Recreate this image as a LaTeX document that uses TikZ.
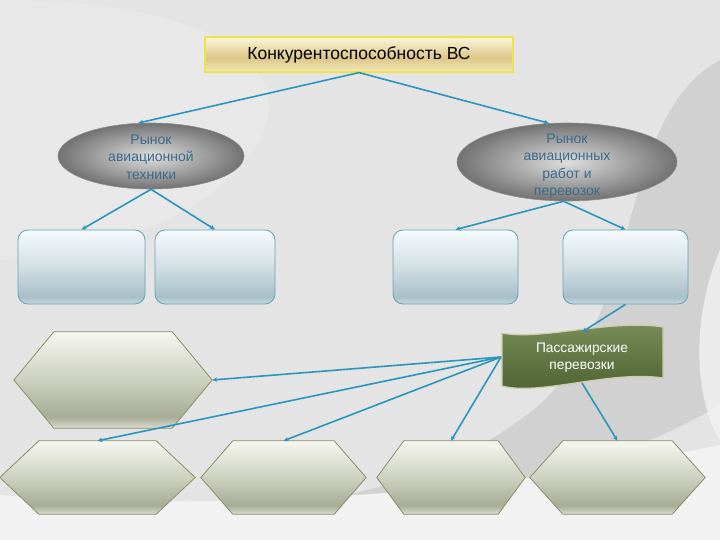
\documentclass[tikz,border=0pt]{standalone}
\usepackage{fontspec}
\setmainfont{Liberation Sans}
\usetikzlibrary{shapes.geometric,arrows.meta,calc}

\definecolor{bgbase}{HTML}{E4E4E4}
\definecolor{bgdark}{HTML}{C9C9C9}
\definecolor{bglight}{HTML}{F2F2F2}
\definecolor{arrowc}{HTML}{2A96BE}
\definecolor{boxtop}{HTML}{F6FAFC}
\definecolor{boxmid}{HTML}{D2DFE4}
\definecolor{boxlow}{HTML}{A7BFC8}
\definecolor{boxbot}{HTML}{C8D8DD}
\definecolor{boxline}{HTML}{62A3B7}
\definecolor{hextop}{HTML}{F6F6F0}
\definecolor{hexmid}{HTML}{CDD1BF}
\definecolor{hexlow}{HTML}{A6AC96}
\definecolor{hexbot}{HTML}{DADCCF}
\definecolor{hexline}{HTML}{8E8E68}
\definecolor{tittop}{HTML}{FCF6DA}
\definecolor{titmid}{HTML}{DCC687}
\definecolor{titbot}{HTML}{F4E9BA}
\definecolor{titline}{HTML}{EEE24A}
\definecolor{ellin}{HTML}{DEDEDE}
\definecolor{ellout}{HTML}{727272}
\definecolor{ellline}{HTML}{8C8C8C}
\definecolor{elltext}{HTML}{3A6B8C}
\definecolor{bantop}{HTML}{7A8E5B}
\definecolor{banbot}{HTML}{4D6131}
\definecolor{banline}{HTML}{C9CFA6}

\pgfdeclareverticalshading{boxsh}{100bp}{color(0bp)=(boxbot); color(25bp)=(boxbot); color(30bp)=(boxlow); color(50bp)=(boxmid); color(75bp)=(boxtop); color(100bp)=(boxtop)}
\pgfdeclareverticalshading{hexsh}{100bp}{color(0bp)=(hexbot); color(25bp)=(hexbot); color(31bp)=(hexlow); color(50bp)=(hexmid); color(75bp)=(hextop); color(100bp)=(hextop)}
\pgfdeclareverticalshading{titsh}{100bp}{color(0bp)=(titbot); color(25bp)=(titbot); color(45bp)=(titmid); color(75bp)=(tittop); color(100bp)=(tittop)}
\pgfdeclareverticalshading{bansh}{100bp}{color(0bp)=(banbot); color(25bp)=(banbot); color(75bp)=(bantop); color(100bp)=(bantop)}

\tikzset{
  conn/.style={draw=arrowc, line width=1.6pt, -{Stealth[length=5pt,width=4.5pt]}},
  boxsty/.style={rectangle, rounded corners=10pt, shade, shading=boxsh, draw=boxline, line width=0.8pt, minimum height=74pt, inner sep=0pt},
  hexn/.style={rectangle, inner sep=0pt, draw=none},
  hexfill/.style={shading=hexsh, draw=hexline, line width=0.8pt},
  ellsty/.style={ellipse, shade, shading=radial, inner color=ellin, outer color=ellout, draw=ellline, line width=0.6pt, inner sep=0pt},
  ellt/.style={align=center, text=elltext, font=\fontsize{14}{17.3}\selectfont, inner sep=0pt},
}

\newcommand\hexa[6]{%
  \node[hexn, minimum width=#4pt, minimum height=#5pt] (#1) at (#2,#3) {};
  \shadedraw[hexfill] (#1.west) -- ([xshift=#6pt]#1.north west) -- ([xshift=-#6pt]#1.north east) -- (#1.east) -- ([xshift=-#6pt]#1.south east) -- ([xshift=#6pt]#1.south west) -- cycle;
}

\begin{document}
\begin{tikzpicture}[x=1pt,y=-1pt]
\useasboundingbox (0,0) rectangle (720,540);
% background
\fill[bgbase] (0,0) rectangle (720,540);
\fill[bglight, opacity=0.35] (0,0) .. controls (200,0) and (300,60) .. (260,140) .. controls (200,240) and (60,250) .. (0,260) -- cycle;
\fill[bgdark, opacity=0.7] (720,60) .. controls (610,120) and (650,330) .. (520,420) .. controls (450,470) and (380,490) .. (300,505) .. controls (450,505) and (600,475) .. (720,405) -- cycle;
\fill[bglight, opacity=0.8] (720,250) .. controls (690,320) and (695,400) .. (720,440) -- cycle;
\fill[bglight] (0,495) .. controls (200,510) and (460,500) .. (720,445) -- (720,540) -- (0,540) -- cycle;

% title
\node[rectangle, shade, shading=titsh, draw=titline, line width=1.2pt, minimum width=308pt, minimum height=35pt, font=\fontsize{17.5}{20}\selectfont] (title) at (359,54.5) {Конкурентоспособность ВС};

% ellipses
\node[ellsty, minimum width=186pt, minimum height=66pt] (lel) at (151,156) {};
\node[ellt] (lelt) at (151,157) {Рынок\\авиационной\\техники};
\node[ellsty, minimum width=220pt, minimum height=78pt] (rel) at (567,162) {};
\node[ellt] (relt) at (567,166) {Рынок\\авиационных\\работ и\\перевозок};

% boxes
\node[boxsty, minimum width=127pt] (A) at (81.5,267) {};
\node[boxsty, minimum width=120pt] (B) at (215,267) {};
\node[boxsty, minimum width=125pt] (C) at (455.5,267) {};
\node[boxsty, minimum width=125pt] (D) at (625.5,267) {};

% hexagons
\hexa{big}{113}{380}{198}{96}{40}
\hexa{h1}{97.5}{477.5}{195}{73}{39}
\hexa{h2}{283.5}{477.5}{165}{73}{32}
\hexa{h3}{451}{477.5}{148}{73}{27}
\hexa{h4}{617.5}{477.5}{175}{73}{33}

% banner
\shadedraw[shading=bansh, draw=banline, line width=1.2pt] (502,333) .. controls (540,341) and (610,319) .. (663,327) -- (663,378) .. controls (610,370) and (540,396) .. (502,386) -- cycle;
\node[align=center, text=white, font=\fontsize{13.8}{17}\selectfont, inner sep=0pt] (ban) at (582,358) {Пассажирские\\перевозки};
\coordinate (banN) at (582,332);
\coordinate (banW) at (501,357);
\coordinate (banS) at (582,383);

% connectors
\draw[conn] (title.south) -- (lel.111);
\draw[conn] (title.south) -- (rel.115);
\draw[conn] (lel.south) -- (A.north);
\draw[conn] (lel.south) -- (B.north);
\draw[conn] (rel.265) -- (C.north);
\draw[conn] (rel.265) -- (D.north);
\draw[conn] (D.south) -- (banN);
\draw[conn] (banW) -- (big.east);
\draw[conn] (banW) -- (h1.north);
\draw[conn] (banW) -- (h2.north);
\draw[conn] (banW) -- (h3.north);
\draw[conn] (banS) -- (h4.north);
\end{tikzpicture}
\end{document}
